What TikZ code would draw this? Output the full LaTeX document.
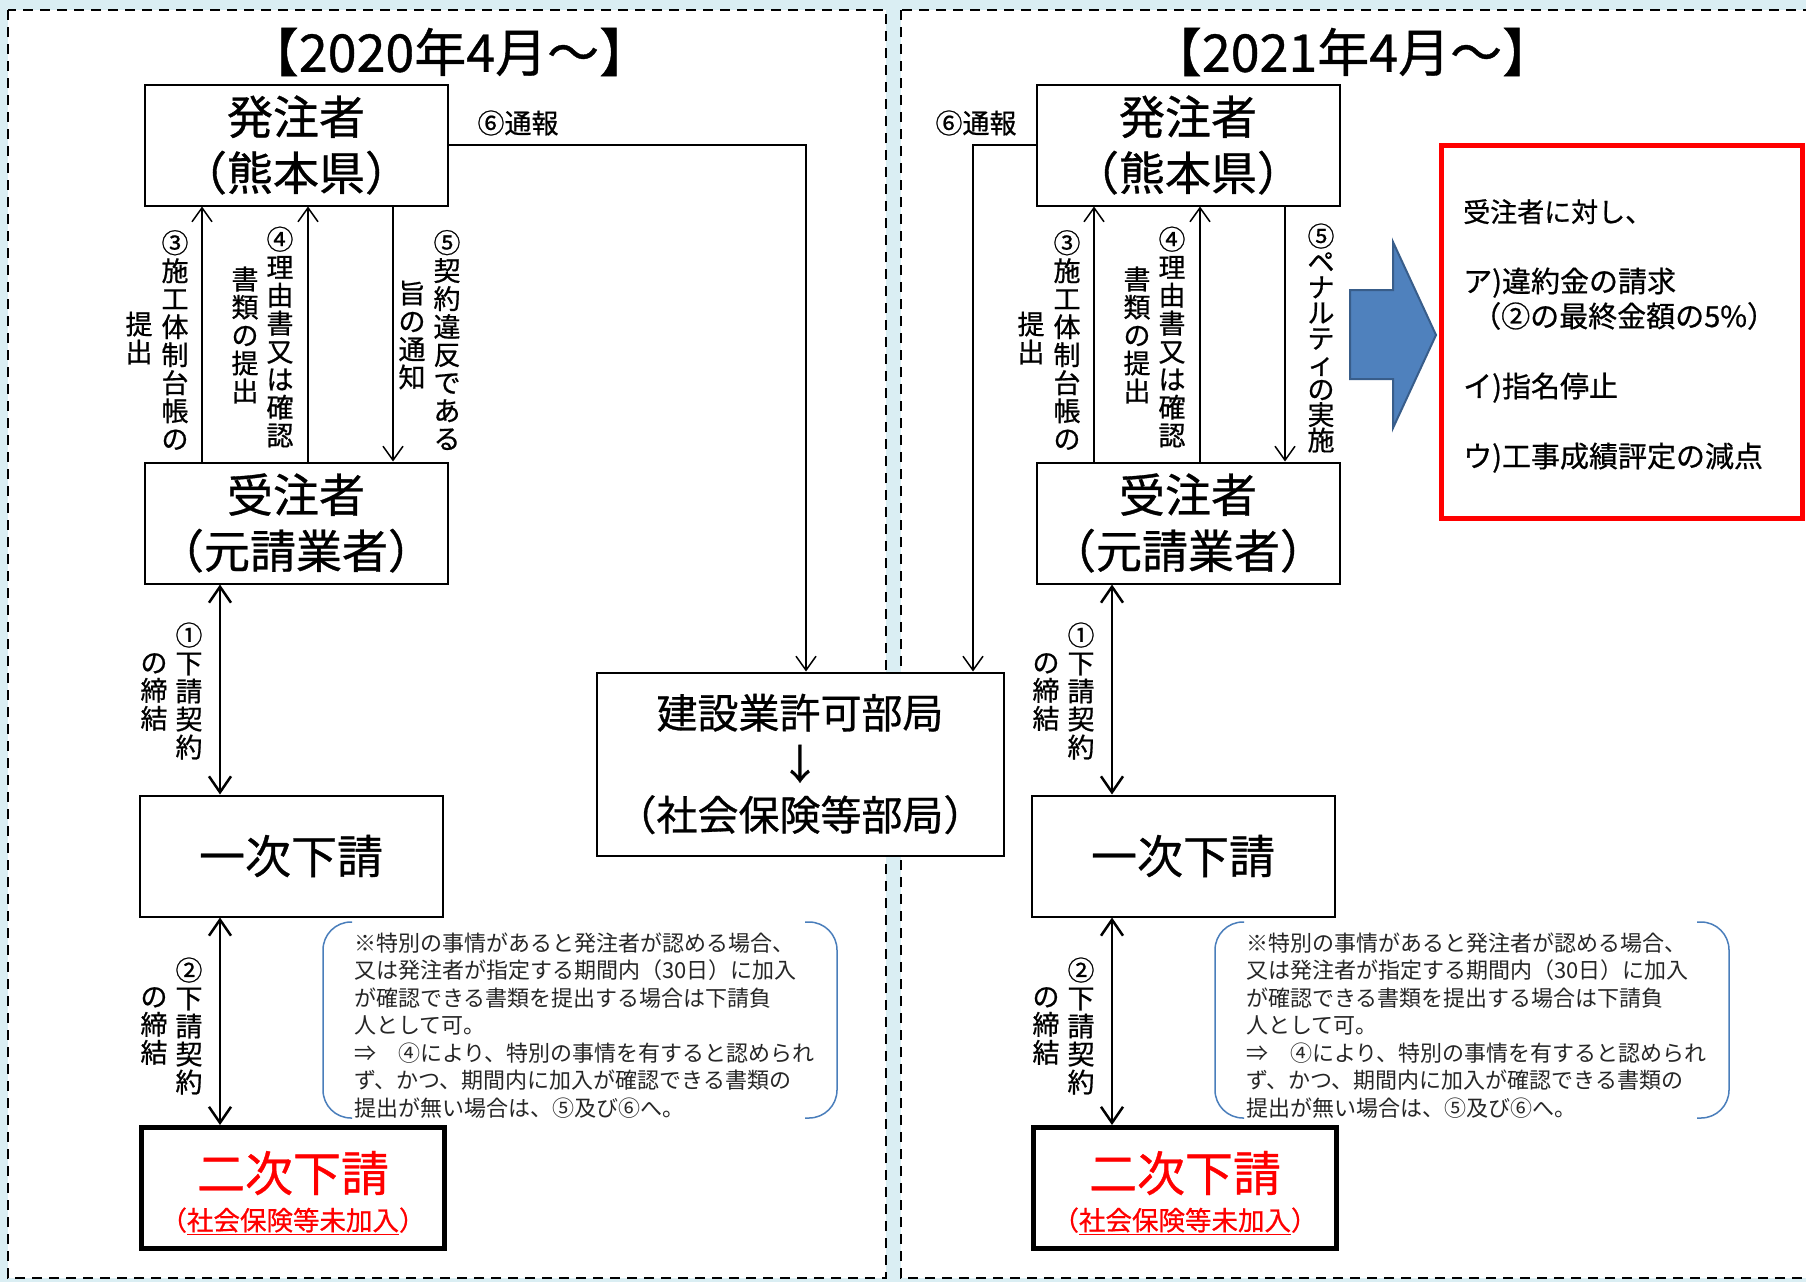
\documentclass[tikz,border=0pt]{standalone}
\usepackage{fontspec}
\setmainfont{Noto Sans CJK JP}[FakeBold=0.7]
\newfontfamily\notefont{Noto Sans CJK JP}
\usetikzlibrary{arrows.meta}
\definecolor{bgblue}{HTML}{DAEEF3}
\definecolor{arrowblue}{HTML}{4F81BD}
\definecolor{arrowedge}{HTML}{385D8A}
\definecolor{notebrace}{HTML}{4A7EBB}
\begin{document}
\begin{tikzpicture}[x=1pt,y=-1pt,
 box/.style={draw,line width=2pt,fill=white,minimum width=303pt,minimum height=121pt,inner sep=0pt,align=center,font=\fontsize{46}{56}\selectfont},
 thickbox/.style={box,line width=5pt},
 vlab/.style={align=center,inner sep=0pt,font=\fontsize{27}{28}\selectfont},
 arr/.style={line width=1.5pt,-{Straight Barb[length=14pt,width=20pt]}},
 darr/.style={line width=2.5pt,{Straight Barb[length=16pt,width=22pt]}-{Straight Barb[length=16pt,width=22pt]}},
 notetxt/.style={anchor=base west,inner sep=0pt,font=\notefont\fontsize{22}{27.5}\selectfont,text=black!85},
 redtxt/.style={anchor=base west,inner sep=0pt,font=\fontsize{29}{30}\selectfont},
 bracket/.style={draw=notebrace,line width=1.5pt,rounded corners=28pt},
 titletxt/.style={inner sep=0pt,font=\fontsize{52}{56}\selectfont},
 lab6/.style={inner sep=0pt,font=\fontsize{27}{30}\selectfont},
 panel/.style={draw,fill=white,line width=2.5pt,dash pattern=on 10pt off 7pt},
]
\useasboundingbox (0,0) rectangle (1806,1282);
\clip (0,0) rectangle (1806,1282);
\fill[bgblue] (0,0) rectangle (1806,1282);
\draw[panel] (8,10) rectangle (886,1278);
\draw[panel] (901,10) rectangle (1840,1278);

% titles
\node[titletxt] (tL) at (449,52) {【2020年4月～】};
\node[titletxt] (tR) at (1352,52) {【2021年4月～】};

% middle box
\node[box,minimum width=407pt,minimum height=183pt,font=\fontsize{41}{51}\selectfont] (ken) at (800,764) {建設業許可部局\\↓\\（社会保険等部局）};

% left panel boxes
\node[box] (hatL) at (296,145) {発注者\\（熊本県）};
\node[box] (juL) at (296,523) {受注者\\（元請業者）};
\node[box] (ichiL) at (291,856) {一次下請};
\node[thickbox] (niL) at (293,1188) {};
\node[inner sep=0pt,text=red,font=\fontsize{48}{50}\selectfont] (niLa) at (293,1173) {二次下請};
\node[inner sep=0pt,text=red,font=\fontsize{26.5}{28}\selectfont] (niLb) at (293,1221) {（\underline{社会保険等未加入}）};

% right panel boxes
\node[box] (hatR) at (1188,145) {発注者\\（熊本県）};
\node[box] (juR) at (1188,523) {受注者\\（元請業者）};
\node[box] (ichiR) at (1183,856) {一次下請};
\node[thickbox] (niR) at (1185,1188) {};
\node[inner sep=0pt,text=red,font=\fontsize{48}{50}\selectfont] (niRa) at (1185,1173) {二次下請};
\node[inner sep=0pt,text=red,font=\fontsize{26.5}{28}\selectfont] (niRb) at (1185,1221) {（\underline{社会保険等未加入}）};

% arrow x positions
\coordinate (x3L) at (202,0);
\coordinate (x4L) at (308,0);
\coordinate (x5L) at (393,0);
\coordinate (x1L) at (220,0);
\coordinate (x6L) at (806,0);
\coordinate (x3R) at (1094,0);
\coordinate (x4R) at (1200,0);
\coordinate (x5R) at (1285,0);
\coordinate (x1R) at (1112,0);
\coordinate (x6R) at (973,0);

% left arrows
\draw[arr] (juL.north -| x3L) -- (hatL.south -| x3L);
\draw[arr] (juL.north -| x4L) -- (hatL.south -| x4L);
\draw[arr] (hatL.south -| x5L) -- (juL.north -| x5L);
\draw[darr] (juL.south -| x1L) -- (ichiL.north -| x1L);
\draw[darr] (ichiL.south -| x1L) -- (niL.north -| x1L);
\draw[arr] (hatL.east) -| (x6L |- ken.north);

% right arrows
\draw[arr] (juR.north -| x3R) -- (hatR.south -| x3R);
\draw[arr] (juR.north -| x4R) -- (hatR.south -| x4R);
\draw[arr] (hatR.south -| x5R) -- (juR.north -| x5R);
\draw[darr] (juR.south -| x1R) -- (ichiR.north -| x1R);
\draw[darr] (ichiR.south -| x1R) -- (niR.north -| x1R);
\draw[arr] (hatR.west) -| (x6R |- ken.north);

% labels 6
\node[lab6] (l6L) at (518,123) {⑥通報};
\node[lab6] (l6R) at (976,123) {⑥通報};

% vertical labels left
\node[vlab] (l3aL) at (175,340) {③\\施\\工\\体\\制\\台\\帳\\の};
\node[vlab] (l3bL) at (139,338) {提\\出};
\node[vlab] (l4aL) at (280,337) {④\\理\\由\\書\\又\\は\\確\\認};
\node[vlab] (l4bL) at (245,335) {書\\類\\の\\提\\出};
\node[vlab] (l5aL) at (447,340) {⑤\\契\\約\\違\\反\\で\\あ\\る};
\node[vlab] (l5bL) at (412,335) {旨\\の\\通\\知};
\node[vlab] (l1aL) at (189,691) {①\\下\\請\\契\\約};
\node[vlab] (l1bL) at (154,692) {の\\締\\結};
\node[vlab] (l2aL) at (189,1026) {②\\下\\請\\契\\約};
\node[vlab] (l2bL) at (154,1026) {の\\締\\結};

% vertical labels right
\node[vlab] (l3aR) at (1067,340) {③\\施\\工\\体\\制\\台\\帳\\の};
\node[vlab] (l3bR) at (1031,338) {提\\出};
\node[vlab] (l4aR) at (1172,337) {④\\理\\由\\書\\又\\は\\確\\認};
\node[vlab] (l4bR) at (1137,335) {書\\類\\の\\提\\出};
\node[vlab,font=\fontsize{27}{25.5}\selectfont] (l5R) at (1321,338) {⑤\\ペ\\ナ\\ル\\テ\\ィ\\の\\実\\施};
\node[vlab] (l1aR) at (1081,691) {①\\下\\請\\契\\約};
\node[vlab] (l1bR) at (1046,692) {の\\締\\結};
\node[vlab] (l2aR) at (1081,1026) {②\\下\\請\\契\\約};
\node[vlab] (l2bR) at (1046,1026) {の\\締\\結};

% notes
\foreach \dx/\s in {0/L,892/R}{
  \draw[bracket] (352+\dx,922) -- (323+\dx,922) -- (323+\dx,1118) -- (352+\dx,1118);
  \draw[bracket] (805+\dx,922) -- (837+\dx,922) -- (837+\dx,1118) -- (805+\dx,1118);
  \foreach \t [count=\i] in {{※特別の事情があると発注者が認める場合、},{又は発注者が指定する期間内（30日）に加入},{が確認できる書類を提出する場合は下請負},{人として可。},{⇒　④により、特別の事情を有すると認められ},{ず、かつ、期間内に加入が確認できる書類の},{提出が無い場合は、⑤及び⑥へ。}}{
    \node[notetxt] (note\s\i) at ({354+\dx},{951.4+27.5*(\i-1)}) {\t};
  }
}

% blue arrow
\draw[fill=arrowblue,draw=arrowedge,line width=2pt,line join=miter] (1350,290) -- (1393,290) -- (1393,242) -- (1436,335) -- (1393,428) -- (1393,379) -- (1350,379) -- cycle;

% red box
\node[draw=red,line width=5pt,fill=white,minimum width=361pt,minimum height=373pt,inner sep=0pt] (pen) at (1621.5,331.5) {};
\node[redtxt,font=\fontsize{27}{30}\selectfont] (p1) at (1463,222) {受注者に対し、};
\node[redtxt] (p2) at (1463,292) {ア)違約金の請求};
\node[redtxt] (p3) at (1472,327) {（②の最終金額の5\%）};
\node[redtxt] (p4) at (1463,397) {イ)指名停止};
\node[redtxt] (p5) at (1463,467) {ウ)工事成績評定の減点};
\end{tikzpicture}
\end{document}
